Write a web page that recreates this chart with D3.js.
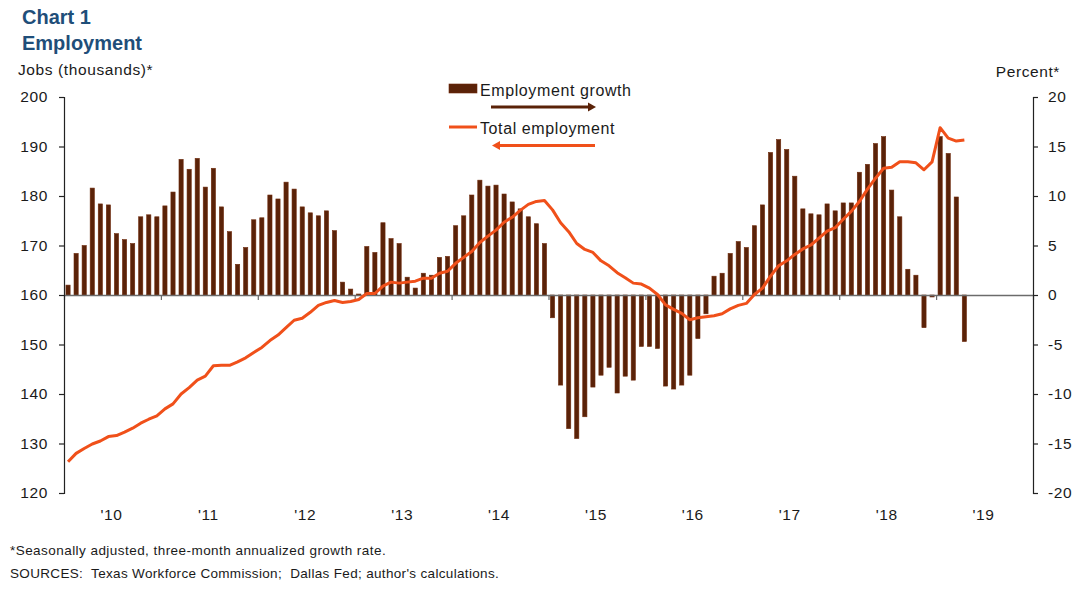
<!DOCTYPE html>
<html>
<head>
<meta charset="utf-8">
<script src="https://cdn.jsdelivr.net/npm/d3@7"></script>
<style>
  html, body { margin: 0; padding: 0; background: #fff; }
  svg text { font-family: "Liberation Sans", Arial, sans-serif; }
</style>
</head>
<body>
<svg id="chart" width="1077" height="610"></svg>
<script>
// ---- data ----
const startYear = 2010;
const yearLabels = ["'10","'11","'12","'13","'14","'15","'16","'17","'18","'19"];
const leftTicks = [120,130,140,150,160,170,180,190,200];
const rightTicks = [-20,-15,-10,-5,0,5,10,15,20];

// Employment growth, percent (three-month annualized), Jan 2010 - Apr 2019
const growth = [
  1.0, 4.2, 5.0, 10.8, 9.2, 9.1, 6.2, 5.6, 5.2, 7.9, 8.1, 7.9,
  9.0, 10.4, 13.7, 12.7, 13.8, 10.9, 12.8, 8.9, 6.4, 3.1, 4.8, 7.6,
  7.8, 10.1, 9.7, 11.4, 10.7, 8.9, 8.3, 8.0, 8.5, 6.5, 1.3, 0.6,
  0.1, 4.9, 4.3, 7.3, 5.7, 5.2, 1.8, 0.7, 2.2, 2.0, 3.8, 3.9,
  7.0, 8.0, 10.1, 11.6, 11.0, 11.1, 10.2, 9.4, 8.7, 7.9, 7.2, 5.2,
  -2.3, -9.1, -13.5, -14.5, -12.3, -9.3, -8.1, -7.3, -9.9, -8.2, -8.6, -5.2,
  -5.2, -5.4, -9.2, -9.5, -9.1, -8.1, -4.4, -1.9, 1.9, 2.2, 4.2, 5.4,
  4.8, 7.0, 9.1, 14.4, 15.7, 14.7, 12.0, 8.7, 8.2, 8.1, 9.2, 8.5,
  9.3, 9.3, 12.4, 13.2, 15.3, 16.0, 10.6, 7.9, 2.6, 2.0, -3.3, -0.2,
  16.0, 14.3, 9.9, -4.7
];

// Total employment, thousands of jobs, Jan 2010 - Apr 2019
const employment = [
  126.3, 128.0, 129.0, 129.9, 130.5, 131.4, 131.6, 132.3, 133.1, 134.1, 134.9, 135.6,
  137.0, 138.0, 140.0, 141.3, 142.8, 143.6, 145.7, 145.8, 145.8, 146.5, 147.3, 148.4,
  149.4, 150.8, 151.9, 153.4, 154.9, 155.3, 156.5, 157.9, 158.5, 158.9, 158.5, 158.7,
  159.1, 160.3, 160.3, 161.8, 162.6, 162.4, 162.6, 162.8, 163.4, 163.4, 164.4, 164.8,
  166.4, 167.6, 168.8, 170.6, 171.9, 173.1, 174.7, 175.7, 177.1, 178.3, 178.9, 179.1,
  177.2, 174.6, 172.8, 170.4, 169.2, 168.6, 166.9, 165.9, 164.5, 163.5, 162.4, 162.2,
  161.4, 160.1, 158.0, 157.1, 156.3, 155.0, 155.4, 155.6, 155.8, 156.2, 157.2, 157.9,
  158.3, 160.1, 161.4, 163.8, 165.9, 166.9, 168.2, 169.3, 170.1, 171.5, 172.9, 173.6,
  175.3, 176.9, 178.9, 181.4, 183.6, 185.6, 185.8, 186.9, 186.9, 186.7, 185.3, 186.9,
  193.8, 191.7, 191.1, 191.3
];

// ---- layout ----
const svg = d3.select("#chart");
const plotL = 64, plotR = 1033, plotT = 97, plotB = 493;
const nMonths = yearLabels.length * 12;
const months = d3.range(nMonths);

const x = d3.scaleBand().domain(months).range([plotL, plotR]).paddingInner(0.48).paddingOuter(0.24);
const xYear = d3.scaleLinear().domain([startYear, startYear + yearLabels.length]).range([plotL, plotR]);
const yL = d3.scaleLinear().domain([120, 200]).range([plotB, plotT]);
const yR = d3.scaleLinear().domain([-20, 20]).range([plotB, plotT]);

const barFill = "#5a2208", barStroke = "#6e2a0c", lineColor = "#f0501a";
const textColor = "#1a1a1a";

svg.append("rect").attr("width", 1077).attr("height", 610).attr("fill", "#fff");

// Titles
svg.append("text").attr("x", 22).attr("y", 24).attr("font-size", 20).attr("font-weight", "bold")
  .attr("fill", "#1f4e79").text("Chart 1");
svg.append("text").attr("x", 22).attr("y", 50).attr("font-size", 20).attr("font-weight", "bold")
  .attr("fill", "#1f4e79").text("Employment");

svg.append("text").attr("x", 18).attr("y", 75).attr("font-size", 15.5).attr("letter-spacing", 0.6)
  .attr("fill", textColor).text("Jobs (thousands)*");
svg.append("text").attr("x", 1060).attr("y", 77).attr("font-size", 15.5).attr("letter-spacing", 0.6)
  .attr("text-anchor", "end").attr("fill", textColor).text("Percent*");

// Bars
const bw = x.bandwidth();
svg.append("g").selectAll("rect").data(growth).join("rect")
  .attr("x", (d, i) => x(i))
  .attr("width", bw)
  .attr("y", d => d >= 0 ? yR(d) : yR(0))
  .attr("height", d => Math.abs(yR(d) - yR(0)))
  .attr("fill", barFill)
  .attr("stroke", barStroke)
  .attr("stroke-width", 0.6);

// Zero / x axis line with year ticks
const xAxis = d3.axisBottom(xYear)
  .tickValues(d3.range(startYear, startYear + yearLabels.length + 1))
  .tickSize(5).tickSizeOuter(0).tickFormat("");
const gx = svg.append("g").attr("transform", `translate(0,${yR(0)})`).call(xAxis);
gx.select(".domain").attr("stroke", "#6b6b6b").attr("stroke-width", 1.6);
gx.selectAll(".tick line").attr("stroke", "#6b6b6b").attr("stroke-width", 1.2);

// Year labels
svg.append("g").selectAll("text").data(yearLabels).join("text")
  .attr("x", (d, i) => xYear(startYear + i + 0.5) - 1)
  .attr("y", 520)
  .attr("text-anchor", "middle")
  .attr("font-size", 15.5).attr("letter-spacing", 0.6)
  .attr("fill", textColor)
  .text(d => d);

// Total employment line
const line = d3.line()
  .x((d, i) => x(i) + bw / 2)
  .y(d => yL(d));
svg.append("path").datum(employment)
  .attr("d", line)
  .attr("fill", "none")
  .attr("stroke", lineColor)
  .attr("stroke-width", 3)
  .attr("stroke-linejoin", "round");

// Left axis
const gL = svg.append("g").attr("transform", `translate(${plotL},0)`)
  .call(d3.axisLeft(yL).tickValues(leftTicks).tickSize(5).tickSizeOuter(5).tickPadding(11)
    .tickFormat(d => String(d)));
gL.select(".domain").attr("stroke", "#222").attr("stroke-width", 1.2);
gL.selectAll(".tick line").attr("stroke", "#222").attr("stroke-width", 1.2);
gL.selectAll(".tick text").attr("font-size", 15.5).attr("letter-spacing", 0.6)
  .attr("fill", textColor).attr("font-family", "Liberation Sans, Arial, sans-serif");

// Right axis
const gR = svg.append("g").attr("transform", `translate(${plotR},0)`)
  .call(d3.axisRight(yR).tickValues(rightTicks).tickSize(5).tickSizeOuter(5).tickPadding(10)
    .tickFormat(d => String(d)));
gR.select(".domain").attr("stroke", "#222").attr("stroke-width", 1.2);
gR.selectAll(".tick line").attr("stroke", "#222").attr("stroke-width", 1.2);
gR.selectAll(".tick text").attr("font-size", 15.5).attr("letter-spacing", 0.6)
  .attr("fill", textColor).attr("font-family", "Liberation Sans, Arial, sans-serif");

// Legend
const lg = svg.append("g");
lg.append("rect").attr("x", 449).attr("y", 84).attr("width", 28).attr("height", 9)
  .attr("fill", barFill).attr("stroke", barStroke).attr("stroke-width", 0.6);
lg.append("text").attr("x", 480).attr("y", 96).attr("font-size", 16).attr("letter-spacing", 0.6)
  .attr("fill", textColor).text("Employment growth");
lg.append("line").attr("x1", 449).attr("x2", 477).attr("y1", 127).attr("y2", 127)
  .attr("stroke", lineColor).attr("stroke-width", 3);
lg.append("text").attr("x", 480).attr("y", 134).attr("font-size", 16).attr("letter-spacing", 0.6)
  .attr("fill", textColor).text("Total employment");

// Arrows
lg.append("line").attr("x1", 491).attr("x2", 588).attr("y1", 107).attr("y2", 107)
  .attr("stroke", "#5a2208").attr("stroke-width", 3);
lg.append("path").attr("d", "M588,102.5 L596,107 L588,111.5 Z").attr("fill", "#5a2208");
lg.append("line").attr("x1", 500).attr("x2", 595).attr("y1", 145.5).attr("y2", 145.5)
  .attr("stroke", lineColor).attr("stroke-width", 3);
lg.append("path").attr("d", "M500,141 L492,145.5 L500,150 Z").attr("fill", lineColor);

// Footnotes
svg.append("text").attr("x", 10).attr("y", 555).attr("font-size", 13.5).attr("letter-spacing", 0.45)
  .attr("fill", textColor).text("*Seasonally adjusted, three-month annualized growth rate.");
svg.append("text").attr("x", 10).attr("y", 578).attr("font-size", 13.5).attr("letter-spacing", 0.33)
  .attr("fill", textColor).attr("xml:space", "preserve")
  .text("SOURCES:  Texas Workforce Commission;  Dallas Fed; author's calculations.");
</script>
</body>
</html>
